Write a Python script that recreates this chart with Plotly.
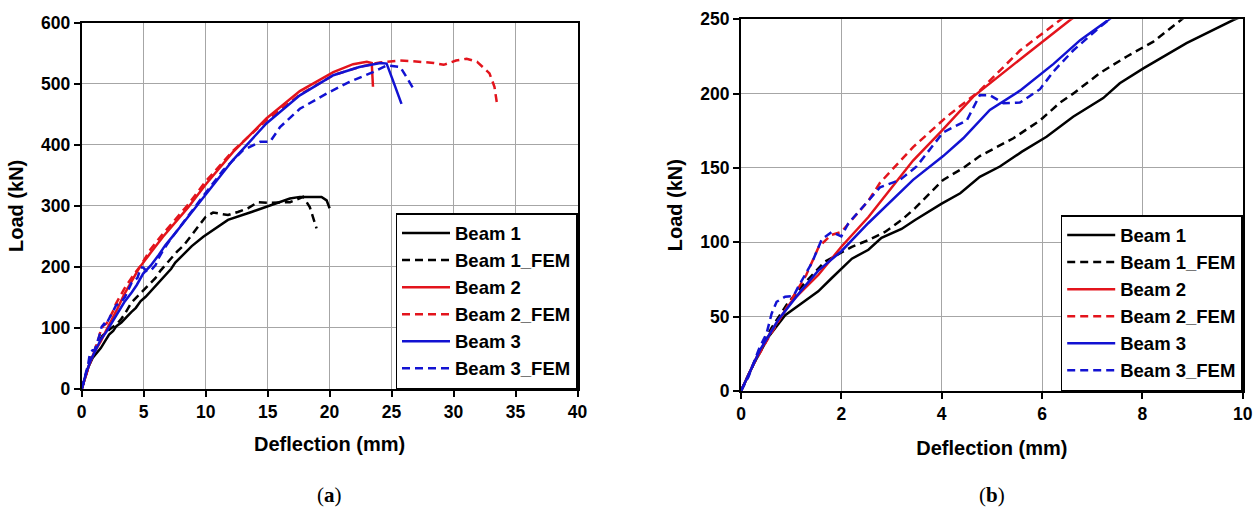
import plotly.graph_objects as go

# ---------------- data (Deflection in mm, Load in kN) ----------------
beam1_x = [0, 0.25, 0.55, 0.88, 1.21, 1.54, 1.81, 2.0, 2.21, 2.54, 2.8, 3.2, 3.47, 4.0, 4.37, 4.76,
           5.16, 5.6, 6.09, 6.62, 7.22, 7.55, 8.02, 8.88, 9.81, 11.8, 13.7, 15.5, 16.8, 17.6, 19.35,
           19.76, 20.0]
beam1_y = [0, 18, 36.5, 51, 59, 67, 76, 82.5, 89, 95, 103, 109, 115, 126, 133, 144,
           151, 161, 171, 184.5, 197, 207, 217, 234, 249.5, 277, 290, 303, 312, 314.7, 314.7,
           309, 296]

beam1_fem_x = [0, 0.3, 0.6, 0.91, 1.2, 1.5, 1.67, 2.21, 2.54, 2.87, 3.2, 3.47, 4.03, 4.43, 4.76,
               5.43, 5.96, 6.36, 6.62, 7.16, 7.69, 8.22, 8.75, 9.54, 10.0, 10.6, 11.8, 12.6, 13.4,
               14.2, 15.2, 16.8, 17.87, 18.4, 18.95]
beam1_fem_y = [0, 22, 42, 58, 70, 81, 87, 97, 101.5, 107, 115, 123, 142, 150, 158,
               170, 182, 194, 200, 214, 225, 235, 249.5, 270, 282, 289, 285, 290, 296,
               306, 305, 306, 314.7, 298, 263]

beam2_x = [0, 0.3, 0.6, 1.0, 1.54, 2.0, 2.54, 2.87, 3.43, 4.0, 4.63, 5.56, 6.56, 8.57, 10.0,
           12.2, 14.9, 17.6, 20.3, 21.9, 23.0, 23.4, 23.5]
beam2_y = [0, 22, 40, 60, 78, 97, 117, 131, 155, 175, 198, 223, 249.5, 297, 335,
           388, 443, 488, 519, 532, 536, 534, 495]

beam2_fem_x = [0, 0.25, 0.5, 0.8, 1.1, 1.3, 1.55, 1.8, 2.0, 2.21, 2.54, 2.77, 3.43, 4.1, 4.76,
               5.56, 6.42, 8.5, 10.0, 12.2, 14.9, 17.6, 20.3, 22.4, 24.06, 25.7, 26.7, 28.4,
               29.2, 30.2, 31.05, 31.9, 32.9, 33.3, 33.5]
beam2_fem_y = [0, 18, 33, 50, 67, 78, 97, 105, 107, 115, 128, 140, 164, 184.5, 202,
               229, 251, 300, 340, 390, 440, 482, 514, 527.5, 535, 538, 537, 534,
               531, 538, 541, 536, 517, 495, 468]

beam3_x = [0, 0.38, 0.74, 1.21, 1.54, 2.0, 2.54, 3.2, 3.43, 4.03, 4.43, 4.96, 5.56, 6.23, 6.76,
           7.32, 9.54, 12.2, 14.9, 17.6, 20.3, 22.4, 24.1, 24.6, 25.1, 25.8]
beam3_y = [0, 27.6, 47.7, 68, 81, 94, 113, 135, 142, 158, 170, 189, 202, 220, 236,
           249.5, 306.6, 375, 435, 481, 514, 527.5, 534, 533, 506, 467]

beam3_fem_x = [0, 0.15, 0.35, 0.51, 0.61, 0.71, 0.88, 1.05, 1.14, 1.41, 1.61, 1.81, 2.0, 2.14,
               2.54, 2.77, 3.17, 3.5, 4.03, 4.5, 4.76, 4.96, 5.23, 5.56, 5.96, 6.23, 6.62, 7.16,
               9.54, 11.4, 13.0, 14.4, 15.2, 16.0, 17.6, 19.76, 21.6, 23.5, 24.6, 25.7, 26.2, 26.9]
beam3_fem_y = [0, 9.6, 27.6, 38.8, 52, 60, 63.4, 64, 70, 86, 102, 107, 104, 112.8,
               128, 137, 142, 151, 174, 182, 199, 199, 193.5, 194, 203, 215, 229, 245,
               309, 358, 391, 405, 405, 429, 459, 484, 503, 519, 530, 527.5, 511, 487]

series_names = ["Beam 1", "Beam 1_FEM", "Beam 2", "Beam 2_FEM", "Beam 3", "Beam 3_FEM"]
panel_labels = ["(<b>a</b>)", "(<b>b</b>)"]
x_title = "Deflection (mm)"
y_title = "Load (kN)"

# ---------------- styling ----------------
W, H = 1259, 509
BLACK, RED, BLUE = "#000000", "#E3141C", "#1212D2"
DASH = "8px,5px"
SANS = "Liberation Sans, Arial, sans-serif"

series = [
    (series_names[0], beam1_x, beam1_y, BLACK, "solid"),
    (series_names[1], beam1_fem_x, beam1_fem_y, BLACK, DASH),
    (series_names[2], beam2_x, beam2_y, RED, "solid"),
    (series_names[3], beam2_fem_x, beam2_fem_y, RED, DASH),
    (series_names[4], beam3_x, beam3_y, BLUE, "solid"),
    (series_names[5], beam3_fem_x, beam3_fem_y, BLUE, DASH),
]

fig = go.Figure()
for xa, ya, lg in (("x", "y", "legend"), ("x2", "y2", "legend2")):
    for name, xs, ys, col, dash in series:
        fig.add_trace(go.Scatter(
            x=xs, y=ys, mode="lines", name=name,
            line=dict(color=col, width=2.5, dash=dash),
            xaxis=xa, yaxis=ya, legend=lg, showlegend=True,
        ))

def px(v):
    return v / W

def py(v):
    return (H - v) / H

axis_common = dict(
    showline=True, linecolor="black", linewidth=2, mirror=True,
    ticks="outside", ticklen=6, tickwidth=2, tickcolor="black",
    showgrid=True, gridcolor="#a6a6a6", gridwidth=1, zeroline=False,
    automargin=False,
    tickfont=dict(family=SANS, size=17.5, color="black", weight="bold"),
    title_font=dict(family=SANS, size=20, color="black", weight="bold"),
)

legend_common = dict(
    xanchor="right", yanchor="bottom",
    bgcolor="white", bordercolor="black", borderwidth=1.5,
    font=dict(family=SANS, size=18.5, color="black", weight="bold"),
    itemwidth=48, tracegroupgap=0,
)

fig.update_layout(
    width=W, height=H, autosize=False,
    margin=dict(l=0, r=0, t=0, b=0, autoexpand=False),
    paper_bgcolor="white", plot_bgcolor="white",
    xaxis=dict(domain=[px(81.7), px(577.5)], range=[0, 40], tick0=0, dtick=5,
               anchor="y", title=dict(text=x_title, standoff=16), **axis_common),
    yaxis=dict(domain=[py(389), py(22.7)], range=[0, 600], tick0=0, dtick=100,
               anchor="x", title=dict(text=y_title, standoff=12), **axis_common),
    xaxis2=dict(domain=[px(741), px(1242.7)], range=[0, 10], tick0=0, dtick=2,
                anchor="y2", title=dict(text=x_title, standoff=18), **axis_common),
    yaxis2=dict(domain=[py(391), py(19.3)], range=[0, 250], tick0=0, dtick=50,
                anchor="x2", title=dict(text=y_title, standoff=12), **axis_common),
    legend=dict(x=px(577.5), y=py(389), **legend_common),
    legend2=dict(x=px(1242.7), y=py(391), **legend_common),
    annotations=[
        dict(text=panel_labels[0], x=px(329.6), y=py(495), xref="paper", yref="paper",
             xanchor="center", yanchor="middle", showarrow=False,
             font=dict(family="Liberation Serif, serif", size=21, color="black")),
        dict(text=panel_labels[1], x=px(991.9), y=py(495), xref="paper", yref="paper",
             xanchor="center", yanchor="middle", showarrow=False,
             font=dict(family="Liberation Serif, serif", size=21, color="black")),
    ],
)

fig.write_html(
    "out.html",
    config={"displayModeBar": False},
    post_script="document.body.style.margin='0px';document.body.style.overflow='hidden';",
)
